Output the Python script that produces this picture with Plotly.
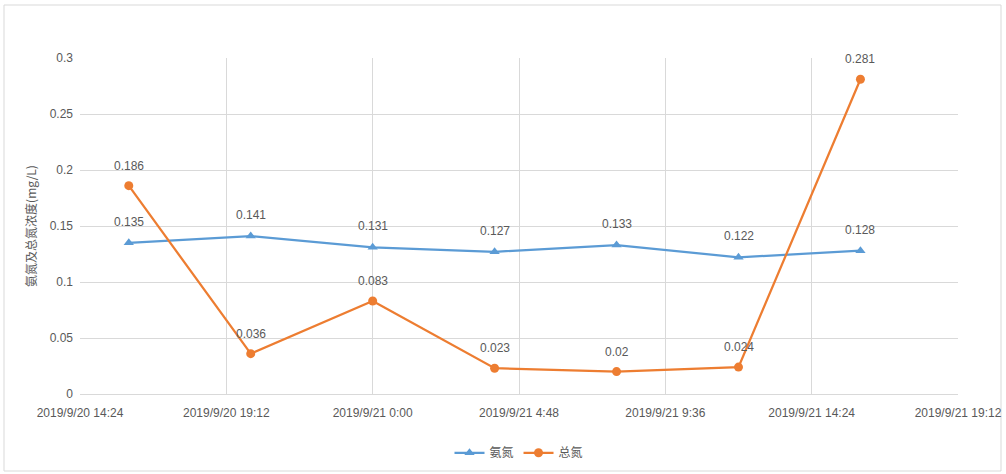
import plotly.graph_objects as go

times = ["2019-09-20 16:00", "2019-09-20 20:00", "2019-09-21 00:00", "2019-09-21 04:00",
         "2019-09-21 08:00", "2019-09-21 12:00", "2019-09-21 16:00"]
ammonia = [0.135, 0.141, 0.131, 0.127, 0.133, 0.122, 0.128]
total_n = [0.186, 0.036, 0.083, 0.023, 0.02, 0.024, 0.281]
total_n_labels = ["0.186", "0.036", "0.083", "0.023", "0.02", "0.024", "0.281"]
ammonia_labels = ["0.135", "0.141", "0.131", "0.127", "0.133", "0.122", "0.128"]

tick_vals = ["2019-09-20 14:24", "2019-09-20 19:12", "2019-09-21 00:00", "2019-09-21 04:48",
             "2019-09-21 09:36", "2019-09-21 14:24", "2019-09-21 19:12"]
tick_labels = ["2019/9/20 14:24", "2019/9/20 19:12", "2019/9/21 0:00", "2019/9/21 4:48",
               "2019/9/21 9:36", "2019/9/21 14:24", "2019/9/21 19:12"]
y_ticks = [0, 0.05, 0.1, 0.15, 0.2, 0.25, 0.3]
y_tick_labels = ["0", "0.05", "0.1", "0.15", "0.2", "0.25", "0.3"]

blue = "#5B9BD5"
orange = "#ED7D31"
gray_text = "#595959"
font_latin = "Liberation Sans, Noto Sans CJK SC"

fig = go.Figure()
fig.add_trace(go.Scatter(x=times, y=ammonia, mode="lines+markers", name="氨氮",
                         line=dict(color=blue, width=2.25),
                         marker=dict(symbol="triangle-up", size=9, color=blue)))
fig.add_trace(go.Scatter(x=times, y=total_n, mode="lines+markers", name="总氮",
                         line=dict(color=orange, width=2.25),
                         marker=dict(symbol="circle", size=9, color=orange)))

annotations = []
for xv, yv, lab in zip(times, ammonia, ammonia_labels):
    annotations.append(dict(x=xv, y=yv, text=lab, showarrow=False, yshift=21,
                            font=dict(size=12, color=gray_text, family=font_latin)))
for xv, yv, lab in zip(times, total_n, total_n_labels):
    annotations.append(dict(x=xv, y=yv, text=lab, showarrow=False, yshift=20,
                            font=dict(size=12, color=gray_text, family=font_latin)))

l, r, t, b = 80, 48, 58, 80
W, H = 1006, 474
pw, ph = W - l - r, H - t - b

fig.update_layout(
    width=W, height=H,
    margin=dict(l=l, r=r, t=t, b=b, autoexpand=False),
    paper_bgcolor="white", plot_bgcolor="white",
    font=dict(family=font_latin, size=12, color=gray_text),
    showlegend=True,
    legend=dict(orientation="h", x=0.5, xanchor="center", y=-0.175, yanchor="middle",
                font=dict(size=12, color=gray_text, family="Noto Sans CJK SC")),
    annotations=annotations,
    shapes=[dict(type="rect", xref="paper", yref="paper",
                 x0=(4 - l) / pw, x1=(1001 - l) / pw,
                 y0=(H - b - 471) / ph, y1=(H - b - 5) / ph,
                 line=dict(color="#D9D9D9", width=1), layer="below")],
)
fig.update_xaxes(type="date", range=[tick_vals[0], tick_vals[-1]],
                 tickvals=tick_vals, ticktext=tick_labels, automargin=False,
                 showgrid=True, gridcolor="#D9D9D9", gridwidth=1,
                 showline=True, linecolor="#D9D9D9", linewidth=1,
                 ticks="", ticklabelstandoff=8,
                 tickfont=dict(size=12, color=gray_text), zeroline=False)
fig.update_yaxes(range=[0, 0.3], tickvals=y_ticks, ticktext=y_tick_labels, automargin=False,
                 showgrid=True, gridcolor="#D9D9D9", gridwidth=1,
                 zeroline=False, showline=False, ticks="", ticklabelstandoff=6,
                 tickfont=dict(size=12, color=gray_text),
                 title=dict(text="氨氮及总氮浓度(mg/L)", standoff=10,
                            font=dict(size=12, color=gray_text, family="Noto Sans CJK SC")))

fig.write_html("out.html")
